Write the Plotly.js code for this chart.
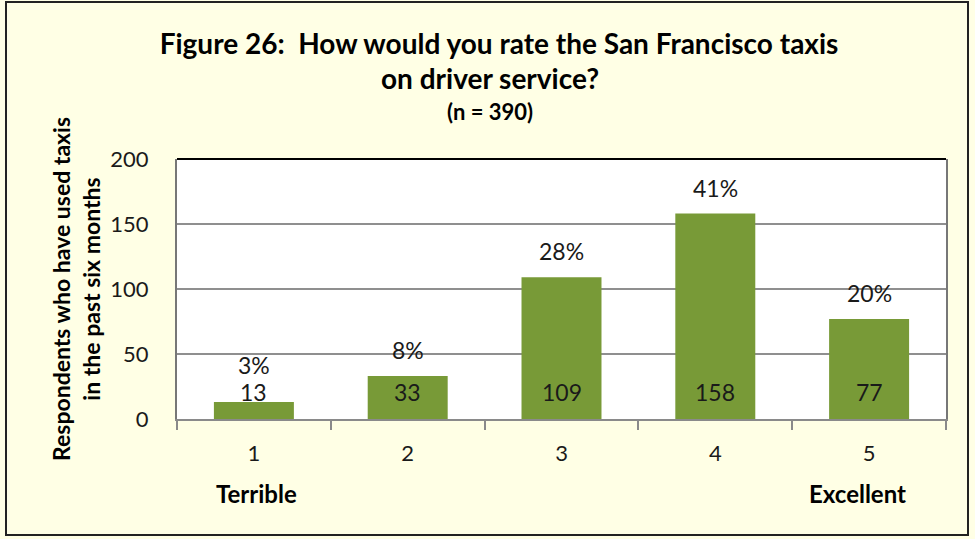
<!DOCTYPE html>
<html>
<head>
<meta charset="utf-8">
<script src="https://cdn.plot.ly/plotly-3.0.1.min.js"></script>
<style>
  html, body { margin: 0; padding: 0; background: #fff; }
  #chart { width: 975px; height: 539px; }
</style>
</head>
<body>
<div id="chart"></div>
<script>
// Figure 26 - driver service rating of San Francisco taxis (n = 390)
const ratings = ['1', '2', '3', '4', '5'];
const counts = [13, 33, 109, 158, 77];
const percents = ['3%', '8%', '28%', '41%', '20%'];
const scaleEnds = ['Terrible', 'Excellent'];

const FONT = 'Lato, "Open Sans", sans-serif';
const ink = '#1a1a1a';

// plot area in pixels: left 177, right 946, top 159, bottom 419
const py = px => (419 - px) / 260;
const pxX = px => (px - 177) / 769;

const bars = {
  type: 'bar',
  x: ratings,
  y: counts,
  width: 0.52,
  marker: { color: '#789a37' },
  hoverinfo: 'x+y'
};

// count labels sit at the same height near the base of every bar
const countNotes = counts.map((v, i) => ({
  x: i, y: 0, xref: 'x', yref: 'y',
  text: String(v), showarrow: false,
  yanchor: 'middle', yshift: 27,
  font: { family: FONT, size: 23, color: ink }
}));

// percentage labels above the bars (first one pushed above its count label)
const pctShift = [37, 26, 26, 26, 26];
const pctNotes = counts.map((v, i) => ({
  x: i, y: v, xref: 'x', yref: 'y',
  text: percents[i], showarrow: false,
  yanchor: 'middle', yshift: pctShift[i],
  font: { family: FONT, size: 23, color: ink }
}));

const endNotes = [
  { x: 0, y: py(494), xref: 'x', yref: 'paper', text: '<b>' + scaleEnds[0] + '</b>',
    showarrow: false, xshift: 3, yanchor: 'middle', font: { family: FONT, size: 24, color: '#000' } },
  { x: 4, y: py(494), xref: 'x', yref: 'paper', text: '<b>' + scaleEnds[1] + '</b>',
    showarrow: false, xshift: -12, yanchor: 'middle', font: { family: FONT, size: 24, color: '#000' } }
];

const titleNotes = [
  { x: pxX(490), y: py(78), xref: 'paper', yref: 'paper', text: '<b>on driver service?</b>',
    showarrow: false, xanchor: 'center', yanchor: 'middle', font: { family: FONT, size: 28, color: '#000' } },
  { x: pxX(490), y: py(111), xref: 'paper', yref: 'paper', text: '<b>(n = 390)</b>',
    showarrow: false, xanchor: 'center', yanchor: 'middle', font: { family: FONT, size: 22, color: '#000' } },
  { x: pxX(76), y: 0.5, xref: 'paper', yref: 'paper', textangle: -90,
    text: '<b>Respondents who have used taxis<br>in the past six months</b>',
    showarrow: false, xanchor: 'center', yanchor: 'middle',
    font: { family: FONT, size: 23, color: '#000' } }
];

const layout = {
  width: 975,
  height: 539,
  margin: { l: 177, r: 29, t: 159, b: 120 },
  paper_bgcolor: '#ffffe5',
  plot_bgcolor: '#ffffff',
  font: { family: FONT, size: 22, color: ink },
  showlegend: false,
  title: {
    text: '<b>Figure 26:\u00a0 How would you rate the San Francisco taxis</b>',
    x: 499 / 975, xanchor: 'center',
    y: 1 - 44 / 539, yanchor: 'middle', yref: 'container',
    font: { family: FONT, size: 28, color: '#000' }
  },
  xaxis: {
    type: 'category',
    showline: true, linecolor: '#8a8a8a', linewidth: 2,
    ticks: 'outside', tickson: 'boundaries', ticklen: 9, tickcolor: '#8a8a8a', tickwidth: 2,
    ticklabelstandoff: 14,
    tickfont: { family: FONT, size: 22, color: ink },
    showgrid: false, zeroline: false, fixedrange: true
  },
  yaxis: {
    range: [0, 200], dtick: 50,
    showline: true, linecolor: '#777', linewidth: 2, mirror: true,
    ticks: '', ticklabelstandoff: 22,
    tickfont: { family: FONT, size: 22, color: ink },
    showgrid: true, gridcolor: '#8f8f8f', gridwidth: 1.5,
    zeroline: false, fixedrange: true
  },
  shapes: [
    // plot area top edge
    { type: 'line', xref: 'paper', yref: 'paper', x0: 0, x1: 1, y0: 1, y1: 1,
      line: { color: '#000', width: 2 } },
    // outer frame of the figure
    { type: 'rect', xref: 'paper', yref: 'paper',
      x0: pxX(6), x1: pxX(968), y0: py(535), y1: py(2),
      line: { color: '#222', width: 2 }, layer: 'below' }
  ],
  annotations: titleNotes.concat(countNotes, pctNotes, endNotes)
};

Plotly.newPlot('chart', [bars], layout, { displayModeBar: false, staticPlot: true });
</script>
</body>
</html>
